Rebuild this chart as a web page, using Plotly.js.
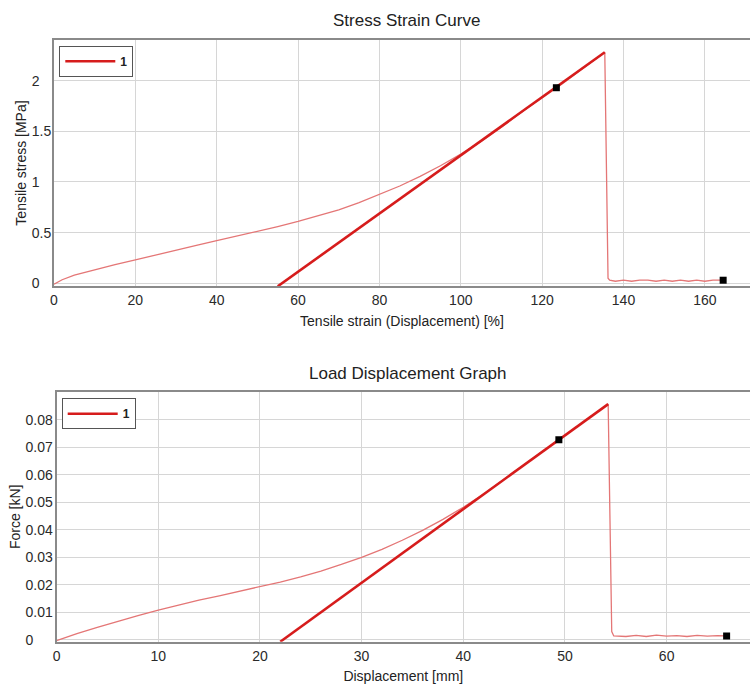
<!DOCTYPE html>
<html>
<head>
<meta charset="utf-8">
<script src="https://cdn.plot.ly/plotly-3.0.1.min.js"></script>
<style>html,body{margin:0;padding:0;background:#fff;} #chart{width:750px;height:686px;}</style>
</head>
<body>
<div id="chart"></div>
<script>
// ---- Stress strain data (top chart) ----
var strainPct = [0, 2, 5, 10, 15, 20, 25, 30, 35, 40, 45, 50, 55, 60, 65, 70, 75, 80, 85, 90, 95, 100, 105, 110, 115, 120, 125, 130, 135.4, 136.2, 136.6, 138, 140, 142, 144, 146, 148, 150, 152, 154, 156, 158, 160, 162, 164.5];
var stressMPa = [-0.01, 0.035, 0.08, 0.135, 0.185, 0.23, 0.28, 0.33, 0.375, 0.42, 0.465, 0.51, 0.56, 0.61, 0.665, 0.725, 0.795, 0.875, 0.96, 1.055, 1.16, 1.275, 1.40, 1.54, 1.69, 1.83, 1.97, 2.12, 2.28, 0.05, 0.03, 0.02, 0.03, 0.02, 0.03, 0.03, 0.02, 0.03, 0.02, 0.03, 0.02, 0.03, 0.02, 0.03, 0.03];
var modStrain = [55, 135.4];
var modStress = [-0.03, 2.28];
var markStrain = [123.5, 164.5];
var markStress = [1.93, 0.03];
var stressTickVals = [0, 0.5, 1, 1.5, 2];
var stressTickText = ["0\u2008\u2007", "0.5", "1\u2008\u2007", "1.5", "2\u2008\u2007"];
var strainTickVals = [0, 20, 40, 60, 80, 100, 120, 140, 160];

// ---- Load displacement data (bottom chart) ----
var dispMm = [0, 1, 2, 4, 6, 8, 10, 12, 14, 16, 18, 20, 22, 24, 26, 28, 30, 32, 34, 36, 38, 40, 42, 44, 46, 48, 50, 52, 54.25, 54.6, 54.8, 56, 57, 58, 59, 60, 61, 62, 63, 64, 65, 65.9];
var forceKn = [-0.0003, 0.0010, 0.0022, 0.0045, 0.0067, 0.0088, 0.0108, 0.0127, 0.0144, 0.0160, 0.0176, 0.0193, 0.0210, 0.0229, 0.0250, 0.0274, 0.0300, 0.0329, 0.0362, 0.0398, 0.0438, 0.0482, 0.0530, 0.0584, 0.0637, 0.0691, 0.0744, 0.0798, 0.0857, 0.0030, 0.0014, 0.0012, 0.0016, 0.0012, 0.0017, 0.0013, 0.0015, 0.0012, 0.0016, 0.0013, 0.0015, 0.0014];
var modDisp = [22, 54.25];
var modForce = [-0.0007, 0.0857];
var markDisp = [49.4, 65.9];
var markForce = [0.0727, 0.0014];
var forceTickVals = [0, 0.01, 0.02, 0.03, 0.04, 0.05, 0.06, 0.07, 0.08];
var forceTickText = ["0\u2008\u2007\u2007", "0.01", "0.02", "0.03", "0.04", "0.05", "0.06", "0.07", "0.08"];
var dispTickVals = [0, 10, 20, 30, 40, 50, 60];

var FONT = "Liberation Sans, Arial, sans-serif";
var curveColor = "rgb(228,118,118)";
var lineColor = "rgb(214,28,28)";

var traces = [
  {x: strainPct, y: stressMPa, xaxis: "x", yaxis: "y", type: "scatter", mode: "lines",
   line: {color: curveColor, width: 1.3}, showlegend: false},
  {x: modStrain, y: modStress, xaxis: "x", yaxis: "y", type: "scatter", mode: "lines",
   line: {color: lineColor, width: 2.6}, name: "<b>1</b>", legend: "legend"},
  {x: markStrain, y: markStress, xaxis: "x", yaxis: "y", type: "scatter", mode: "markers",
   marker: {symbol: "square", size: 7, color: "#000"}, showlegend: false},
  {x: dispMm, y: forceKn, xaxis: "x2", yaxis: "y2", type: "scatter", mode: "lines",
   line: {color: curveColor, width: 1.3}, showlegend: false},
  {x: modDisp, y: modForce, xaxis: "x2", yaxis: "y2", type: "scatter", mode: "lines",
   line: {color: lineColor, width: 2.6}, name: "<b>1</b>", legend: "legend2"},
  {x: markDisp, y: markForce, xaxis: "x2", yaxis: "y2", type: "scatter", mode: "markers",
   marker: {symbol: "square", size: 7, color: "#000"}, showlegend: false}
];

var axisCommon = {
  showgrid: true, gridcolor: "#d6d6d6", gridwidth: 1, zeroline: false,
  showline: true, linecolor: "#8a8a8a", linewidth: 2, ticks: "",
  tickfont: {family: FONT, size: 14, color: "#2a2a2a"}
};
function ax(extra) { var o = {}; for (var k in axisCommon) o[k] = axisCommon[k]; for (var k2 in extra) o[k2] = extra[k2]; return o; }

var titleFont = {family: FONT, size: 14, color: "#222"};
var legendCommon = {xanchor: "left", yanchor: "top", bgcolor: "#fff", bordercolor: "#555", borderwidth: 1,
  font: {family: FONT, size: 12, color: "#222"}, itemwidth: 50};

var layout = {
  width: 750, height: 686,
  margin: {l: 0, r: 0, t: 0, b: 0},
  paper_bgcolor: "#fff", plot_bgcolor: "#fff",
  font: {family: FONT, color: "#222"},
  title: {text: "Stress Strain Curve", x: 406.7/750, xanchor: "center", xref: "paper",
          y: 1 - 20/686, yanchor: "middle", yref: "paper",
          font: {family: FONT, size: 17, color: "#222"}},
  xaxis: ax({domain: [54/750, 1], anchor: "y", range: [0, 171.1], tickvals: strainTickVals, mirror: true,
    title: {text: "\u00a0\u00a0Tensile strain (Displacement) [%]", standoff: 9, font: titleFont}}),
  yaxis: ax({domain: [1 - 286/686, 1 - 40/686], anchor: "x", range: [-0.027, 2.401],
    tickvals: stressTickVals, ticktext: stressTickText, ticklabelstandoff: -2,
    title: {text: "Tensile stress [MPa]", standoff: 2, font: titleFont}}),
  xaxis2: ax({domain: [56.6/750, 1], anchor: "y2", range: [0, 68.2], tickvals: dispTickVals, mirror: true,
    title: {text: "\u00a0\u00a0Displacement [mm]", standoff: 9, font: titleFont}}),
  yaxis2: ax({domain: [1 - 641.7/686, 1 - 392/686], anchor: "x2", range: [-0.0007, 0.0901],
    tickvals: forceTickVals, ticktext: forceTickText, ticklabelstandoff: -1,
    title: {text: "Force [kN]", standoff: 2, font: titleFont}}),
  legend: Object.assign({x: 59.3/750, y: 1 - 45.7/686}, legendCommon),
  legend2: Object.assign({x: 61.7/750, y: 1 - 398.3/686}, legendCommon),
  annotations: [
    {text: "Load Displacement Graph", xref: "paper", yref: "paper", x: 408.3/750, y: 1 - 373.3/686,
     xanchor: "center", yanchor: "middle", showarrow: false, font: {family: FONT, size: 17, color: "#222"}}
  ]
};

Plotly.newPlot("chart", traces, layout, {displayModeBar: false, staticPlot: true});
</script>
</body>
</html>
